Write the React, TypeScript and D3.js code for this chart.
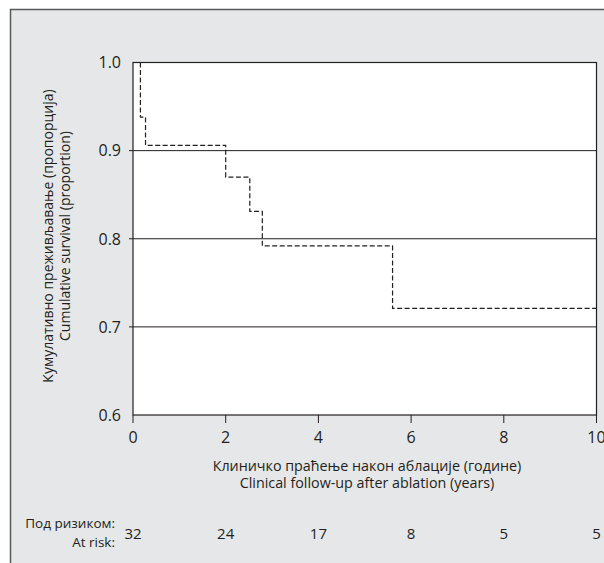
import React, { useEffect, useRef } from 'react';
import * as d3 from 'd3';

// Kaplan-Meier step points (years, proportion)
const stepTimes = [0, 0.16, 0.27, 2.0, 2.52, 2.79, 5.6, 10];
const stepSurvival = [1.0, 0.938, 0.906, 0.87, 0.831, 0.792, 0.721, 0.721];

const xTicks = [0, 2, 4, 6, 8, 10];
const yTicks = [0.6, 0.7, 0.8, 0.9, 1.0];
const gridValues = [0.7, 0.8, 0.9];

const atRiskTimes = [0, 2, 4, 6, 8, 10];
const atRiskCounts = [32, 24, 17, 8, 5, 5];

const yTitle = ['Кумулативно преживљавање (пропорција)', 'Cumulative survival (proportion)'];
const xTitle = ['Клиничко праћење након аблације (године)', 'Clinical follow-up after ablation (years)'];
const atRiskLabel = ['Под ризиком:', 'At risk:'];

const App = () => {
  const svgRef = useRef<SVGSVGElement>(null);

  useEffect(() => {
    const width = 604;
    const height = 563;
    const plot = { left: 133, right: 596.5, top: 62.5, bottom: 415 };
    const font = '"Open Sans", sans-serif';
    const ink = '#231f20';

    const svg = d3.select(svgRef.current);
    svg.selectAll('*').remove();
    svg.attr('width', width).attr('height', height);

    // grey panel
    svg.append('rect')
      .attr('x', 10.5).attr('y', 9.5)
      .attr('width', 700).attr('height', 700)
      .attr('fill', '#e6e7e8')
      .attr('stroke', '#58595b')
      .attr('stroke-width', 1.5);

    const x = d3.scaleLinear().domain([0, 10]).range([plot.left, plot.right]);
    const y = d3.scaleLinear().domain([0.6, 1.0]).range([plot.bottom, plot.top]);

    // plot area
    svg.append('rect')
      .attr('x', plot.left).attr('y', plot.top)
      .attr('width', plot.right - plot.left).attr('height', plot.bottom - plot.top)
      .attr('fill', '#fff')
      .attr('stroke', ink)
      .attr('stroke-width', 1.2);

    // gridlines (with small tick stub to the left)
    svg.selectAll('line.grid')
      .data(gridValues)
      .enter()
      .append('line')
      .attr('class', 'grid')
      .attr('x1', plot.left - 4).attr('x2', plot.right)
      .attr('y1', d => y(d)).attr('y2', d => y(d))
      .attr('stroke', ink)
      .attr('stroke-width', 1);

    // y tick labels
    svg.selectAll('text.ytick')
      .data(yTicks)
      .enter()
      .append('text')
      .attr('class', 'ytick')
      .attr('x', 121)
      .attr('y', d => y(d))
      .attr('dy', '0.36em')
      .attr('text-anchor', 'end')
      .attr('font-family', font)
      .attr('font-size', 16)
      .attr('fill', ink)
      .text(d => d3.format('.1f')(d));

    // x ticks
    svg.selectAll('line.xtick')
      .data(xTicks)
      .enter()
      .append('line')
      .attr('class', 'xtick')
      .attr('x1', d => x(d)).attr('x2', d => x(d))
      .attr('y1', plot.bottom).attr('y2', plot.bottom + 8)
      .attr('stroke', ink)
      .attr('stroke-width', 1);

    svg.selectAll('text.xtick')
      .data(xTicks)
      .enter()
      .append('text')
      .attr('class', 'xtick')
      .attr('x', d => x(d))
      .attr('y', 442.5)
      .attr('text-anchor', 'middle')
      .attr('font-family', font)
      .attr('font-size', 16)
      .attr('fill', ink)
      .text(d => d);

    // survival curve
    const line = d3.line<number>()
      .x((d, i) => x(stepTimes[i]))
      .y(d => y(d))
      .curve(d3.curveStepAfter);

    svg.append('path')
      .datum(stepSurvival)
      .attr('d', line)
      .attr('fill', 'none')
      .attr('stroke', ink)
      .attr('stroke-width', 1.2)
      .attr('stroke-dasharray', '5,2.5');

    // axis titles
    const yt = svg.append('text')
      .attr('transform', 'translate(53,236) rotate(-90)')
      .attr('text-anchor', 'middle')
      .attr('font-family', font)
      .attr('font-size', 14)
      .attr('fill', ink);
    yTitle.forEach((s, i) => {
      yt.append('tspan').attr('x', 0).attr('y', i * 17).text(s);
    });

    const xt = svg.append('text')
      .attr('text-anchor', 'middle')
      .attr('font-family', font)
      .attr('font-size', 14.3)
      .attr('fill', ink);
    xTitle.forEach((s, i) => {
      xt.append('tspan').attr('x', 367).attr('y', 470.5 + i * 17).text(s);
    });

    // at-risk row
    svg.selectAll('text.risklabel')
      .data(atRiskLabel)
      .enter()
      .append('text')
      .attr('class', 'risklabel')
      .attr('x', 115)
      .attr('y', (d, i) => 528 + i * 18.5)
      .attr('text-anchor', 'end')
      .attr('font-family', font)
      .attr('font-size', 13.5)
      .attr('fill', ink)
      .text(d => d);

    svg.selectAll('text.risk')
      .data(atRiskCounts)
      .enter()
      .append('text')
      .attr('class', 'risk')
      .attr('x', (d, i) => x(atRiskTimes[i]))
      .attr('y', 538.5)
      .attr('text-anchor', 'middle')
      .attr('font-family', font)
      .attr('font-size', 15)
      .attr('fill', ink)
      .text(d => d);
  }, []);

  return (
    <svg ref={svgRef} style={{ position: 'absolute', left: 0, top: 0, display: 'block' }}></svg>
  );
};

export default App;
